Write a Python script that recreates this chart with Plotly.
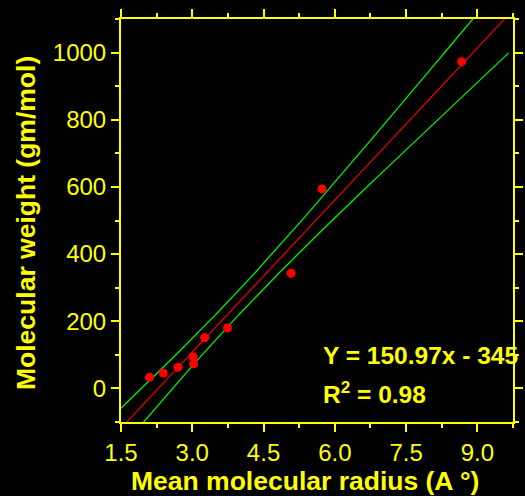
import numpy as np
import plotly.graph_objects as go

# Measured samples: mean molecular radius (Å) vs molecular weight (g/mol)
radius = [2.10, 2.39, 2.70, 3.02, 3.03, 3.26, 3.74, 5.08, 5.73, 8.67]
mol_weight = [33, 46, 63, 94, 73, 151, 180, 343, 594, 973]

# Linear fit reported on the chart
slope = 150.97
intercept = -345
r_squared = 0.98

x_ticks = [1.5, 3.0, 4.5, 6.0, 7.5, 9.0]
y_ticks = [0, 200, 400, 600, 800, 1000]

YELLOW = "#FFFF00"
FONT = "Liberation Sans, Arial, sans-serif"

# 95% confidence band of the fitted line
xa = np.array(radius, dtype=float)
ya = np.array(mol_weight, dtype=float)
n = len(xa)
resid = ya - (slope * xa + intercept)
s = np.sqrt(np.sum(resid ** 2) / (n - 2))
sxx = np.sum((xa - xa.mean()) ** 2)
t_crit = 2.306  # t(0.975, df=8)

xf = np.linspace(1.5, 9.66, 300)
yf = slope * xf + intercept
half = t_crit * s * np.sqrt(1.0 / n + (xf - xa.mean()) ** 2 / sxx)

fig = go.Figure()
fig.add_trace(go.Scatter(x=xf, y=yf + half, mode="lines",
                         line=dict(color="#00F000", width=1.3), hoverinfo="skip"))
fig.add_trace(go.Scatter(x=xf, y=yf - half, mode="lines",
                         line=dict(color="#00F000", width=1.3), hoverinfo="skip"))
fig.add_trace(go.Scatter(x=xf, y=yf, mode="lines",
                         line=dict(color="#F00000", width=1.2), hoverinfo="skip"))
fig.add_trace(go.Scatter(x=radius, y=mol_weight, mode="markers",
                         marker=dict(color="#FF0000", size=9, line=dict(width=0))))

axis_common = dict(
    showline=True, linecolor=YELLOW, linewidth=2, mirror="ticks",
    ticks="outside", ticklen=8, tickwidth=2, tickcolor=YELLOW,
    showgrid=False, zeroline=False,
    tickfont=dict(family=FONT, size=24, color=YELLOW),
)

fig.update_xaxes(range=[1.5, 9.75], tickvals=x_ticks,
                 ticktext=[f"{v:.1f}" for v in x_ticks],
                 minor=dict(dtick=0.75, tick0=1.5, ticklen=4, tickwidth=2,
                            tickcolor=YELLOW, ticks="outside"),
                 **axis_common)
fig.update_yaxes(range=[-100, 1100], tickvals=y_ticks,
                 ticktext=[str(v) for v in y_ticks],
                 minor=dict(dtick=100, tick0=0, ticklen=4, tickwidth=2,
                            tickcolor=YELLOW, ticks="outside"),
                 **axis_common)

fig.update_layout(
    width=525, height=496,
    margin=dict(l=121, r=2, t=19, b=74),
    paper_bgcolor="black", plot_bgcolor="black",
    showlegend=False,
    annotations=[
        dict(text="<b>Mean molecular radius (A °)</b>", xref="paper", yref="paper",
             x=0, y=0, xshift=184, yshift=-59, xanchor="center", yanchor="middle",
             showarrow=False, font=dict(family=FONT, size=26.5, color=YELLOW)),
        dict(text="<b>Molecular weight (gm/mol)</b>", xref="paper", yref="paper",
             x=0, y=0, xshift=-95, yshift=199, xanchor="center", yanchor="middle",
             textangle=-90, showarrow=False,
             font=dict(family=FONT, size=26.5, color=YELLOW)),
        dict(text=f"<b>Y = {slope}x - {abs(intercept)}</b>", xref="paper", yref="paper",
             x=0, y=0, xshift=200, yshift=67, xanchor="left", yanchor="middle",
             showarrow=False, font=dict(family=FONT, size=24.5, color=YELLOW)),
        dict(text=f"<b>R<sup>2</sup> = {r_squared}</b>", xref="paper", yref="paper",
             x=0, y=0, xshift=200, yshift=30, xanchor="left", yanchor="middle",
             showarrow=False, font=dict(family=FONT, size=24.5, color=YELLOW)),
    ],
)

fig.write_html("out.html")
